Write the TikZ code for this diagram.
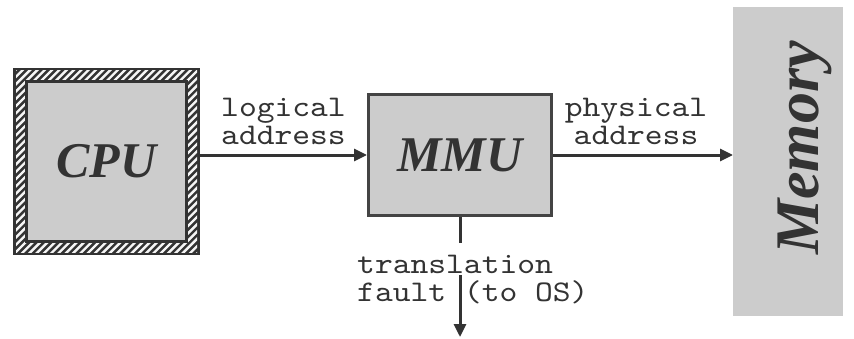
\documentclass[tikz,border=0pt]{standalone}
\usepackage{fontspec}
\newfontfamily\boxfont{Liberation Serif}
\newfontfamily\lblfont{lmmono10-regular.otf}[FakeStretch=1.13]
\usetikzlibrary{arrows.meta}
\definecolor{boxgray}{HTML}{CCCCCC}
\definecolor{ink}{HTML}{333333}
\definecolor{edge}{HTML}{444444}
\begin{document}
\begin{tikzpicture}[x=1pt,y=1pt,
  title/.style={font=\boxfont\bfseries\itshape\fontsize{50}{50}\selectfont, text=ink},
  lbl/.style={font=\lblfont\fontsize{30}{28}\selectfont, text=ink, inner sep=0pt},
  wire/.style={draw=ink, line width=3pt},
  conn/.style={wire, -{Triangle[length=13pt,width=12pt]}},
  stripe/.style={draw=gray!8, line width=2.4pt},
  cpubox/.style={title, minimum width=187pt, minimum height=187pt, inner sep=0pt, outer sep=0pt, fill=ink,
    path picture={
      \begin{scope}
        \clip ([shift={(3pt,3pt)}]path picture bounding box.south west) rectangle ([shift={(-3pt,-3pt)}]path picture bounding box.north east);
        \foreach \k in {-30,...,30}
          \draw[stripe] ([shift={(\k*7.3pt-110pt,-110pt)}]path picture bounding box.center) -- ++(220pt,220pt);
      \end{scope}
      \draw[ink, line width=3pt, fill=boxgray] ([shift={(13.5pt,13.5pt)}]path picture bounding box.south west) rectangle ([shift={(-13.5pt,-13.5pt)}]path picture bounding box.north east);
    }},
  mmubox/.style={title, draw=edge, line width=3pt, fill=boxgray, minimum width=183pt, minimum height=121pt, inner sep=0pt},
  membox/.style={fill=boxgray, minimum width=110pt, minimum height=309pt, inner sep=0pt, outer sep=0pt},
  memtext/.style={font=\boxfont\bfseries\itshape\fontsize{62}{62}\selectfont, text=ink, inner sep=0pt, rotate=90, anchor=base},
]
\useasboundingbox (0,0) rectangle (854,338);
\node[cpubox] (CPU) at (106.5,176.5) {CPU};
\node[mmubox] (MMU) at (460,183) {MMU};
\node[membox] (MEM) at (788,176.5) {};
\node[memtext] (MEMT) at (818,190) {Memory};

\draw[conn] (CPU.east |- MMU.west) -- (MMU.west);
\draw[conn] (MMU.east) -- (MMU.east -| MEM.west);

\coordinate (T1) at (MMU.south |- 0,95);
\coordinate (T2) at (MMU.south |- 0,63);
\coordinate (T3) at (MMU.south |- 0,1);
\draw[wire] (MMU.south) -- (T1);
\draw[conn] (T2) -- (T3);

\node[lbl, anchor=south, align=center] (LA) at (283.5,193) {logical\\address};
\node[lbl, anchor=south, align=center] (PA) at (636,193) {physical\\address};
\node[lbl, anchor=south west, align=left] (TF) at (357,33.5) {translation\\fault (to OS)};
\end{tikzpicture}
\end{document}
